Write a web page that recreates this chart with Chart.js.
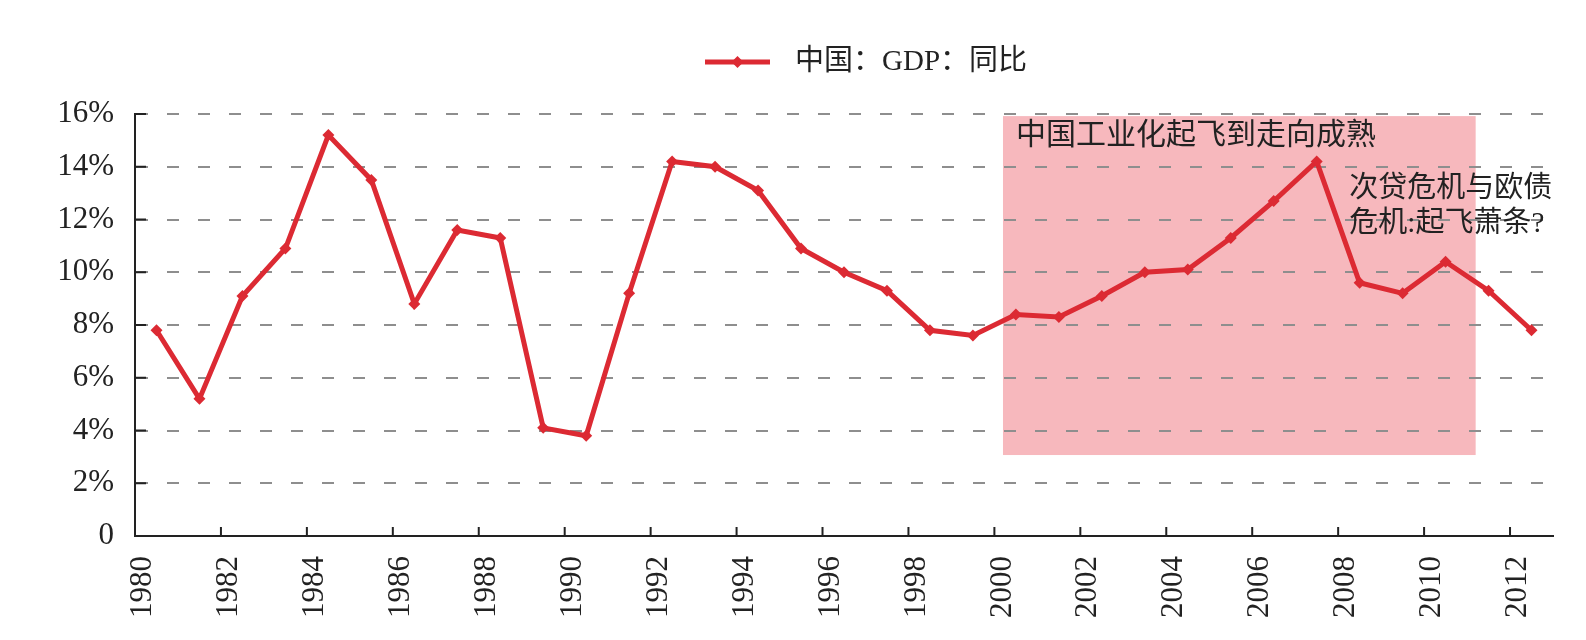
<!DOCTYPE html>
<html>
<head>
<meta charset="utf-8">
<script src="https://cdn.jsdelivr.net/npm/chart.js@4"></script>
<style>
  html, body { margin: 0; padding: 0; background: #fff; }
</style>
</head>
<body>
<canvas id="gdpChart" width="1586" height="640"></canvas>
<script>
// --- data ---
const years = [1980, 1981, 1982, 1983, 1984, 1985, 1986, 1987, 1988, 1989, 1990,
  1991, 1992, 1993, 1994, 1995, 1996, 1997, 1998, 1999, 2000, 2001, 2002, 2003,
  2004, 2005, 2006, 2007, 2008, 2009, 2010, 2011, 2012];
const gdpYoY = [7.8, 5.2, 9.1, 10.9, 15.2, 13.5, 8.8, 11.6, 11.3, 4.1, 3.8,
  9.2, 14.2, 14.0, 13.1, 10.9, 10.0, 9.3, 7.8, 7.6, 8.4, 8.3, 9.1, 10.0,
  10.1, 11.3, 12.7, 14.2, 9.6, 9.2, 10.4, 9.3, 7.8];
const xTickYears = [1980, 1982, 1984, 1986, 1988, 1990, 1992, 1994, 1996, 1998,
  2000, 2002, 2004, 2006, 2008, 2010, 2012];
const yTicks = [0, 2, 4, 6, 8, 10, 12, 14, 16];
const seriesName = '中国：GDP：同比';

// shaded period and notes (data units)
const boxYears = [2000.2, 2011.2];
const boxRange = [3.07, 15.92];
const note1 = '中国工业化起飞到走向成熟';
const note2 = ['次贷危机与欧债', '危机:起飞萧条?'];

const RED = '#dc2a33';
const INK = '#222';
const FONT = "'Liberation Serif', 'Noto Sans CJK SC', serif";

const points = years.map((y, i) => ({ x: y + 0.5, y: gdpYoY[i] }));

// shaded box behind the grid
const boxPlugin = {
  id: 'box',
  beforeDraw(chart) {
    const { ctx, scales: { x, y } } = chart;
    const x0 = x.getPixelForValue(boxYears[0]);
    const x1 = x.getPixelForValue(boxYears[1]);
    const y0 = y.getPixelForValue(boxRange[1]);
    const y1 = y.getPixelForValue(boxRange[0]);
    ctx.save();
    ctx.fillStyle = '#f7b8bd';
    ctx.fillRect(x0, y0, x1 - x0, y1 - y0);
    ctx.restore();
  }
};

// inward tick marks, notes, legend
const extrasPlugin = {
  id: 'extras',
  afterDraw(chart) {
    const { ctx, chartArea, scales: { x, y } } = chart;
    ctx.save();
    ctx.strokeStyle = INK;
    ctx.lineWidth = 2;
    ctx.beginPath();
    yTicks.forEach(v => {
      const py = y.getPixelForValue(v);
      ctx.moveTo(chartArea.left, py);
      ctx.lineTo(chartArea.left + 11, py);
    });
    xTickYears.forEach(v => {
      const px = x.getPixelForValue(v);
      ctx.moveTo(px, chartArea.bottom);
      ctx.lineTo(px, chartArea.bottom - 9);
    });
    ctx.stroke();

    // notes
    ctx.fillStyle = INK;
    ctx.textBaseline = 'middle';
    ctx.textAlign = 'left';
    ctx.font = '30px ' + FONT;
    ctx.fillText(note1, x.getPixelForValue(2000.5), y.getPixelForValue(15.15));
    ctx.font = '29px ' + FONT;
    ctx.fillText(note2[0], x.getPixelForValue(2008.26), y.getPixelForValue(13.16));
    ctx.fillText(note2[1], x.getPixelForValue(2008.26), y.getPixelForValue(11.81));

    // legend
    const lx = 705, ly = 62;
    ctx.strokeStyle = RED;
    ctx.lineWidth = 5;
    ctx.beginPath();
    ctx.moveTo(lx, ly);
    ctx.lineTo(lx + 65, ly);
    ctx.stroke();
    ctx.fillStyle = RED;
    ctx.beginPath();
    const cx = lx + 32.5;
    ctx.moveTo(cx, ly - 6); ctx.lineTo(cx + 6, ly); ctx.lineTo(cx, ly + 6); ctx.lineTo(cx - 6, ly);
    ctx.closePath();
    ctx.fill();
    ctx.fillStyle = INK;
    ctx.font = '29px ' + FONT;
    ctx.fillText(seriesName, 795, ly);
    ctx.restore();
  }
};

new Chart(document.getElementById('gdpChart'), {
  type: 'line',
  data: {
    datasets: [{
      label: seriesName,
      data: points,
      borderColor: RED,
      backgroundColor: RED,
      borderWidth: 5,
      pointStyle: 'rectRot',
      pointRadius: 6,
      pointBorderWidth: 0,
      tension: 0
    }]
  },
  options: {
    responsive: false,
    devicePixelRatio: 1,
    animation: false,
    layout: { padding: { top: 114, right: 33, left: 0, bottom: 0 } },
    plugins: {
      legend: { display: false },
      tooltip: { enabled: false }
    },
    scales: {
      x: {
        type: 'linear',
        min: 1980,
        max: 2013,
        afterBuildTicks: s => { s.ticks = xTickYears.map(v => ({ value: v })); },
        afterFit: s => { s.height = 104; },
        grid: { display: false },
        border: { display: true, color: INK, width: 2 },
        ticks: {
          autoSkip: false,
          minRotation: 90,
          maxRotation: 90,
          padding: 12,
          labelOffset: 8,
          color: INK,
          font: { family: FONT, size: 31 },
          callback: v => String(v)
        }
      },
      y: {
        min: 0,
        max: 16,
        afterBuildTicks: s => { s.ticks = yTicks.map(v => ({ value: v })); },
        afterFit: s => { s.width = 135; },
        grid: {
          drawTicks: false,
          lineWidth: 2,
          color: c => (c.tick && c.tick.value === 0) ? 'rgba(0,0,0,0)' : '#8e8e8e'
        },
        border: { display: true, color: INK, width: 2, dash: [12, 19] },
        ticks: {
          padding: 21,
          color: INK,
          font: { family: FONT, size: 31 },
          callback: v => v === 0 ? '0' : v + '%'
        }
      }
    }
  },
  plugins: [boxPlugin, extrasPlugin]
});
</script>
</body>
</html>
